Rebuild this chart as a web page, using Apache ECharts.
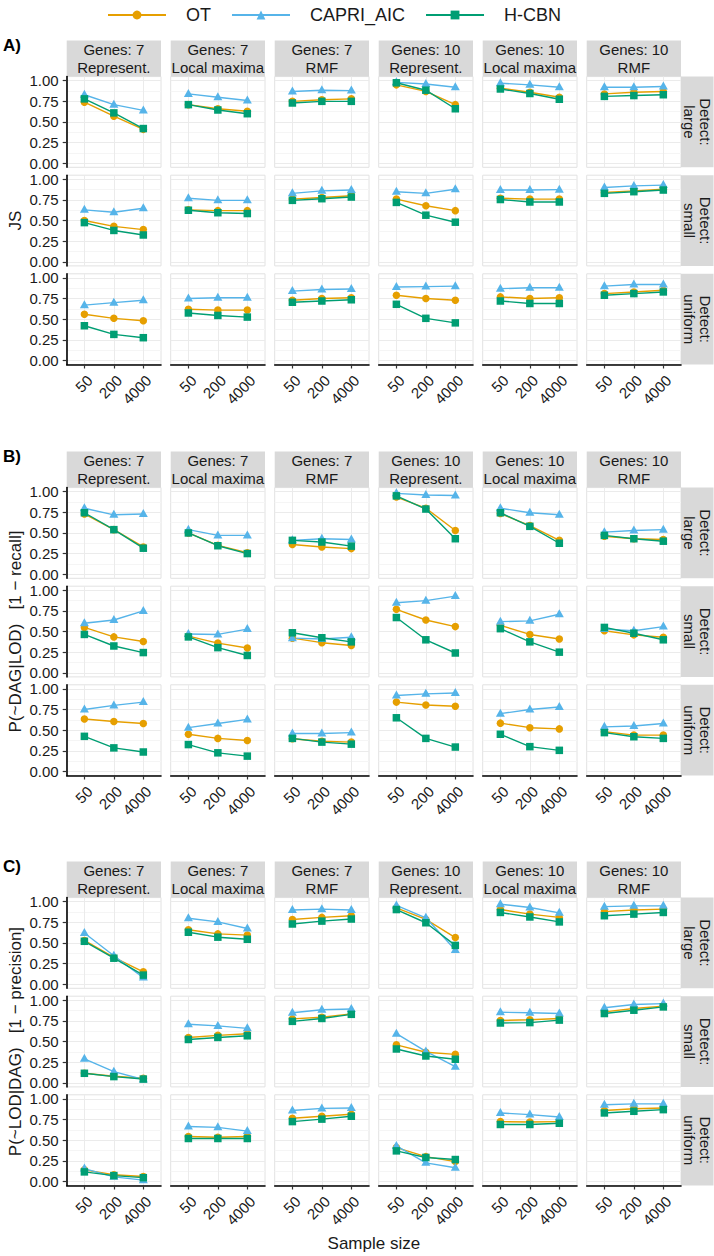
<!DOCTYPE html>
<html><head><meta charset="utf-8">
<script src="https://cdn.jsdelivr.net/npm/echarts@6/dist/echarts.min.js"></script>
<style>html,body{margin:0;padding:0;background:#fff}#c{width:714px;height:1256px}</style>
</head><body><div id="c"></div>
<script>
// ---------- data ----------
const sampleSizes = ['50', '200', '4000'];
const methods = ['OT', 'CAPRI_AIC', 'H-CBN'];
const facetCols = ['Genes: 7\nRepresent.', 'Genes: 7\nLocal maxima', 'Genes: 7\nRMF',
                   'Genes: 10\nRepresent.', 'Genes: 10\nLocal maxima', 'Genes: 10\nRMF'];
const facetRows = ['Detect:\nlarge', 'Detect:\nsmall', 'Detect:\nuniform'];
const panelTags = ['A)', 'B)', 'C)'];
const panelTitles = ['JS', 'P(~DAG|LOD)\u00a0\u00a0\u00a0[1 \u2212 recall]', 'P(~LOD|DAG)\u00a0\u00a0\u00a0[1 \u2212 precision]'];
const xTitle = 'Sample size';
const yTicks = [0, 0.25, 0.5, 0.75, 1];
const yMinor = [0.125, 0.375, 0.625, 0.875];

// values: [detect row][facet column][sample size]
const JS_OT = [
  [[0.74,0.57,0.41],[0.71,0.66,0.63],[0.75,0.77,0.78],[0.95,0.87,0.71],[0.91,0.86,0.80],[0.84,0.86,0.87]],
  [[0.50,0.43,0.39],[0.63,0.62,0.62],[0.76,0.78,0.80],[0.76,0.68,0.62],[0.77,0.76,0.76],[0.84,0.86,0.88]],
  [[0.56,0.51,0.48],[0.62,0.61,0.61],[0.73,0.75,0.76],[0.79,0.75,0.73],[0.77,0.75,0.76],[0.81,0.83,0.85]]
];
const JS_CAPRI = [
  [[0.83,0.71,0.64],[0.84,0.80,0.76],[0.87,0.885,0.88],[0.98,0.96,0.92],[0.97,0.95,0.92],[0.92,0.92,0.93]],
  [[0.63,0.60,0.65],[0.77,0.745,0.745],[0.83,0.86,0.87],[0.85,0.83,0.88],[0.87,0.87,0.875],[0.90,0.92,0.93]],
  [[0.67,0.70,0.73],[0.75,0.76,0.76],[0.84,0.86,0.865],[0.89,0.895,0.90],[0.87,0.88,0.88],[0.90,0.92,0.92]]
];
const JS_HCBN = [
  [[0.78,0.61,0.42],[0.71,0.645,0.60],[0.73,0.75,0.75],[0.975,0.885,0.66],[0.90,0.845,0.775],[0.81,0.82,0.83]],
  [[0.475,0.38,0.325],[0.625,0.595,0.585],[0.745,0.765,0.785],[0.72,0.565,0.48],[0.755,0.725,0.725],[0.83,0.85,0.87]],
  [[0.42,0.315,0.275],[0.575,0.545,0.525],[0.705,0.72,0.735],[0.68,0.51,0.455],[0.72,0.69,0.69],[0.79,0.81,0.83]]
];
const REC_OT = [
  [[0.73,0.54,0.33],[0.50,0.35,0.26],[0.36,0.33,0.31],[0.935,0.80,0.53],[0.735,0.59,0.41],[0.46,0.43,0.42]],
  [[0.55,0.435,0.38],[0.445,0.36,0.30],[0.42,0.365,0.33],[0.77,0.64,0.56],[0.575,0.465,0.41],[0.51,0.46,0.43]],
  [[0.635,0.605,0.58],[0.45,0.40,0.375],[0.395,0.365,0.355],[0.84,0.805,0.79],[0.585,0.53,0.515],[0.48,0.44,0.44]]
];
const REC_CAPRI = [
  [[0.80,0.72,0.73],[0.54,0.47,0.47],[0.41,0.43,0.42],[0.98,0.96,0.955],[0.80,0.745,0.72],[0.51,0.53,0.54]],
  [[0.60,0.64,0.75],[0.47,0.465,0.53],[0.42,0.41,0.43],[0.85,0.875,0.93],[0.62,0.63,0.71],[0.53,0.51,0.56]],
  [[0.75,0.80,0.84],[0.53,0.58,0.63],[0.46,0.46,0.47],[0.92,0.94,0.95],[0.70,0.75,0.78],[0.54,0.55,0.58]]
];
const REC_HCBN = [
  [[0.745,0.54,0.315],[0.50,0.345,0.25],[0.41,0.39,0.34],[0.95,0.79,0.43],[0.745,0.58,0.375],[0.47,0.43,0.40]],
  [[0.465,0.325,0.245],[0.435,0.305,0.21],[0.485,0.425,0.375],[0.67,0.40,0.24],[0.535,0.375,0.25],[0.55,0.48,0.40]],
  [[0.425,0.285,0.235],[0.325,0.225,0.185],[0.40,0.355,0.33],[0.65,0.40,0.295],[0.45,0.30,0.255],[0.47,0.42,0.40]]
];
const PREC_OT = [
  [[0.53,0.325,0.15],[0.66,0.61,0.595],[0.785,0.81,0.83],[0.925,0.785,0.565],[0.905,0.85,0.81],[0.88,0.90,0.91]],
  [[0.115,0.08,0.055],[0.55,0.575,0.595],[0.775,0.795,0.835],[0.46,0.37,0.345],[0.755,0.765,0.78],[0.86,0.90,0.93]],
  [[0.14,0.08,0.06],[0.545,0.535,0.545],[0.765,0.79,0.815],[0.41,0.30,0.24],[0.725,0.72,0.725],[0.86,0.88,0.89]]
];
const PREC_CAPRI = [
  [[0.62,0.345,0.08],[0.80,0.755,0.675],[0.90,0.91,0.90],[0.955,0.805,0.415],[0.97,0.93,0.865],[0.94,0.95,0.95]],
  [[0.29,0.135,0.04],[0.71,0.69,0.66],[0.85,0.885,0.895],[0.595,0.38,0.195],[0.855,0.85,0.84],[0.91,0.95,0.96]],
  [[0.155,0.055,0.015],[0.665,0.655,0.61],[0.86,0.885,0.89],[0.43,0.225,0.165],[0.83,0.81,0.78],[0.93,0.94,0.94]]
];
const PREC_HCBN = [
  [[0.52,0.315,0.11],[0.63,0.57,0.545],[0.73,0.765,0.79],[0.905,0.745,0.47],[0.87,0.815,0.755],[0.83,0.85,0.87]],
  [[0.115,0.075,0.045],[0.525,0.55,0.57],[0.745,0.78,0.83],[0.41,0.325,0.285],[0.725,0.73,0.76],[0.84,0.88,0.92]],
  [[0.115,0.07,0.045],[0.52,0.52,0.52],[0.725,0.755,0.79],[0.37,0.29,0.265],[0.69,0.69,0.705],[0.83,0.85,0.87]]
];
const metricData = [
  [JS_OT, JS_CAPRI, JS_HCBN],
  [REC_OT, REC_CAPRI, REC_HCBN],
  [PREC_OT, PREC_CAPRI, PREC_HCBN]
];

// ---------- layout & style ----------
const FONT = '"Liberation Sans", Arial, Helvetica, sans-serif';
const TXT = '#1a1a1a';
const COL0 = 66.7, COL_PITCH = 104, PANEL_W = 94.3;
const GROUP_TOPS = [76.6, 487.6, 897.6];
const ROW_PITCH = 98.6, PANEL_H = 90.7, STRIP_H = 36, RSTRIP_W = 32.5;
const colors = ['#E69F00', '#56B4E9', '#009E73'];
const symbols = ['circle', 'triangle', 'rect'];
const symSizes = [7.5, [9, 8], 7.5];
const symOffsets = [[0, 0], [0, -1], [0, 0]];
const xIdx = sampleSizes.map((_, i) => i);

const grids = [], xAxes = [], yAxes = [], series = [], graphics = [];
let g = 0;
for (let p = 0; p < 3; p++) {
  for (let r = 0; r < 3; r++) {
    for (let c = 0; c < 6; c++) {
      const left = COL0 + c * COL_PITCH, top = GROUP_TOPS[p] + r * ROW_PITCH;
      grids.push({left: left, top: top, width: PANEL_W, height: PANEL_H, show: true,
        borderColor: '#E2E2E2', borderWidth: 1, backgroundColor: 'transparent',
        containLabel: false, outerBoundsMode: 'none'});
      const bottom = r === 2, first = c === 0;
      xAxes.push({type: 'value', gridIndex: g, min: -0.6, max: 2.6,
        axisLine: {show: bottom, onZero: false, lineStyle: {color: '#000', width: 1.6}},
        axisTick: {show: bottom, length: 4, customValues: xIdx, lineStyle: {color: '#333', width: 1.2}},
        axisLabel: {show: bottom, customValues: xIdx, formatter: v => sampleSizes[Math.round(v)],
          rotate: 45, margin: 8, fontSize: 15, fontFamily: FONT, color: TXT, align: 'right', verticalAlign: 'top'},
        splitLine: {show: true, lineStyle: {color: '#EBEBEB', width: 1}}});
      yAxes.push({type: 'value', gridIndex: g, min: -0.05, max: 1.05, position: 'left',
        axisLine: {show: first, onZero: false, lineStyle: {color: '#000', width: 1.6}},
        axisTick: {show: first, length: 4, customValues: yTicks, lineStyle: {color: '#333', width: 1.2}},
        axisLabel: {show: first, customValues: yTicks, formatter: v => v.toFixed(2), margin: 8,
          fontSize: 15, fontFamily: FONT, color: TXT},
        splitLine: {show: true, lineStyle: {color: '#EBEBEB', width: 1}}});
      yAxes.push({type: 'value', gridIndex: g, min: -0.05, max: 1.05, position: 'right',
        axisLine: {show: false}, axisTick: {show: false, customValues: yMinor}, axisLabel: {show: false},
        splitLine: {show: true, lineStyle: {color: '#F5F5F5', width: 1}}});
      for (let m = 0; m < 3; m++) {
        const vals = metricData[p][m][r][c].map((v, i) => [xIdx[i], v]);
        series.push({type: 'line', name: methods[m], xAxisIndex: g, yAxisIndex: 2 * g, data: vals,
          symbol: symbols[m], showSymbol: false, lineStyle: {color: colors[m], width: 1.4},
          itemStyle: {color: colors[m]}, z: 2, silent: true});
      }
      for (let m = 0; m < 3; m++) {
        const vals = metricData[p][m][r][c].map((v, i) => [xIdx[i], v]);
        series.push({type: 'scatter', name: methods[m], xAxisIndex: g, yAxisIndex: 2 * g, data: vals,
          symbol: symbols[m], symbolSize: symSizes[m], symbolOffset: symOffsets[m],
          itemStyle: {color: colors[m], opacity: 1}, z: 3, silent: true});
      }
      g++;
    }
  }
  // top strips
  for (let c = 0; c < 6; c++) {
    const left = COL0 + c * COL_PITCH, top = GROUP_TOPS[p] - STRIP_H;
    graphics.push({type: 'rect', shape: {x: left, y: top, width: PANEL_W, height: STRIP_H}, style: {fill: '#D9D9D9'}, silent: true});
    graphics.push({type: 'text', x: left + PANEL_W / 2, y: top + STRIP_H / 2, silent: true,
      style: {text: facetCols[c], align: 'center', verticalAlign: 'middle', font: '15px ' + FONT, lineHeight: 18, fill: TXT}});
  }
  // right strips
  for (let r = 0; r < 3; r++) {
    const left = COL0 + 5 * COL_PITCH + PANEL_W, top = GROUP_TOPS[p] + r * ROW_PITCH;
    graphics.push({type: 'rect', shape: {x: left, y: top, width: RSTRIP_W, height: PANEL_H}, style: {fill: '#D9D9D9'}, silent: true});
    graphics.push({type: 'text', x: left + RSTRIP_W / 2, y: top + PANEL_H / 2, rotation: -Math.PI / 2, silent: true,
      style: {text: facetRows[r], align: 'center', verticalAlign: 'middle', font: '15px ' + FONT, lineHeight: 15.5, fill: TXT}});
  }
  // tag and y title
  graphics.push({type: 'text', x: 3, y: GROUP_TOPS[p] - 31, silent: true,
    style: {text: panelTags[p], align: 'left', verticalAlign: 'middle', font: 'bold 17px ' + FONT, fill: '#000'}});
  graphics.push({type: 'text', x: 15, y: GROUP_TOPS[p] + (2 * ROW_PITCH + PANEL_H) / 2, rotation: Math.PI / 2, silent: true,
    style: {text: panelTitles[p], align: 'center', verticalAlign: 'middle', font: '17px ' + FONT, fill: TXT}});
}
graphics.push({type: 'text', x: COL0 + (5 * COL_PITCH + PANEL_W) / 2, y: 1243, silent: true,
  style: {text: xTitle, align: 'center', verticalAlign: 'middle', font: '17px ' + FONT, fill: TXT}});

const chart = echarts.init(document.getElementById('c'), null, {renderer: 'svg', width: 714, height: 1256});
chart.setOption({
  animation: false,
  backgroundColor: '#fff',
  textStyle: {fontFamily: FONT},
  legend: {data: methods, left: 102, top: 1, itemWidth: 58, itemHeight: 11, itemGap: 20,
    textStyle: {fontSize: 18, fontFamily: FONT, color: TXT, padding: [0, 0, 0, 15]}},
  grid: grids, xAxis: xAxes, yAxis: yAxes, series: series, graphic: graphics
});
</script></body></html>
